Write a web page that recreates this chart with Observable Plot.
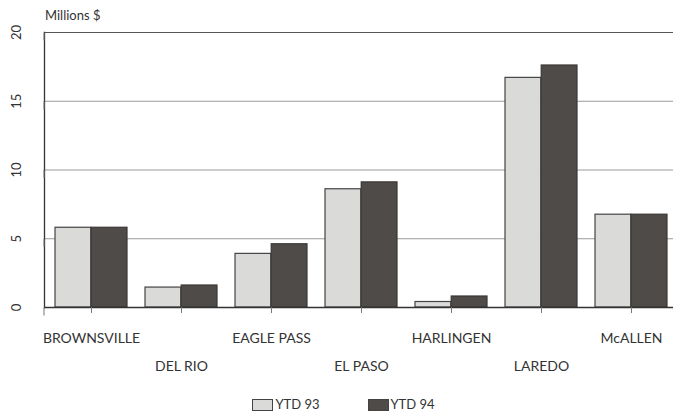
<!DOCTYPE html>
<html>
<head>
<meta charset="utf-8">
<script src="https://cdn.jsdelivr.net/npm/d3@7"></script>
<script src="https://cdn.jsdelivr.net/npm/@observablehq/plot@0.6"></script>
<style>
  html, body { margin: 0; padding: 0; background: #fff; }
  #wrap { position: relative; width: 673px; height: 417px; font-family: Lato, "Open Sans", sans-serif; color: #333; }
  #ylabel { position: absolute; left: 45px; top: 7px; font-size: 13px; }
  #legend { position: absolute; left: 0; top: 398px; width: 673px; padding-left: 14px; box-sizing: border-box; display: flex; justify-content: center; gap: 48px; font-size: 13px; line-height: 13px; }
  .item { display: flex; align-items: center; gap: 2px; }
  .sw { display: inline-block; width: 19px; height: 10px; border: 1px solid #444; }
</style>
</head>
<body>
<div id="wrap">
  <div id="chart"></div>
  <div id="ylabel">Millions $</div>
  <div id="legend"></div>
</div>
<script>
const cities = ["BROWNSVILLE", "DEL RIO", "EAGLE PASS", "EL PASO", "HARLINGEN", "LAREDO", "McALLEN"];
const ytd93 = [5.8, 1.45, 3.9, 8.6, 0.4, 16.7, 6.75];
const ytd94 = [5.8, 1.6, 4.6, 9.1, 0.8, 17.6, 6.75];
const seriesNames = ["YTD 93", "YTD 94"];
const seriesColors = ["#dadad8", "#4e4b49"];
const yTicks = [0, 5, 10, 15, 20];

const d93 = cities.map((c, i) => ({city: c, value: ytd93[i]}));
const d94 = cities.map((c, i) => ({city: c, value: ytd94[i]}));

const W = 673, H = 385, mL = 44, mR = -5, mT = 32, mB = 78;
const xOpts = {type: "band", domain: cities, range: [mL, W - mR], paddingInner: 0.2, paddingOuter: 0.1};
const bw = Plot.scale({x: xOpts}).bandwidth;
const evenCities = cities.filter((c, i) => i % 2 === 0);
const oddCities = cities.filter((c, i) => i % 2 === 1);

const chart = Plot.plot({
  width: W,
  height: H,
  marginLeft: mL,
  marginRight: mR,
  marginTop: mT,
  marginBottom: mB,
  style: {fontFamily: "Lato, 'Open Sans', sans-serif", fontSize: "13px", color: "#333", background: "#fff"},
  x: {domain: cities, paddingInner: 0.2, paddingOuter: 0.1, axis: null},
  y: {domain: [0, 20], axis: null},
  marks: [
    Plot.gridY(yTicks.filter(t => t > 0 && t < 20), {stroke: "#9a9a9a", strokeOpacity: 1, strokeWidth: 1}),
    Plot.ruleY([20], {stroke: "#555", strokeWidth: 1.2}),
    Plot.barY(d93, {x: "city", y: "value", fill: seriesColors[0], stroke: "#444", strokeWidth: 1.2, insetRight: bw / 2}),
    Plot.barY(d94, {x: "city", y: "value", fill: seriesColors[1], stroke: "#3a3735", strokeWidth: 1.2, insetLeft: bw / 2}),
    Plot.ruleY([0], {stroke: "#333", strokeWidth: 1.3}),
    Plot.frame({anchor: "left", stroke: "#333", strokeWidth: 1.3}),
    Plot.axisY({ticks: yTicks, label: null, tickSize: 8, tickPadding: 20, rotate: -90, textAnchor: "middle", stroke: "#777", fontSize: 13}),
    Plot.axisX({ticks: evenCities, label: null, tickSize: 6, tickPadding: 20, stroke: "#777", fontSize: 14}),
    Plot.axisX({ticks: oddCities, label: null, tickSize: 6, tickPadding: 48, stroke: "#777", fontSize: 14})
  ]
});
document.getElementById("chart").appendChild(chart);

const legend = document.getElementById("legend");
seriesNames.forEach((s, i) => {
  const item = document.createElement("div");
  item.className = "item";
  const sw = document.createElement("span");
  sw.className = "sw";
  sw.style.background = seriesColors[i];
  const t = document.createElement("span");
  t.textContent = s;
  item.appendChild(sw);
  item.appendChild(t);
  legend.appendChild(item);
});
</script>
</body>
</html>
